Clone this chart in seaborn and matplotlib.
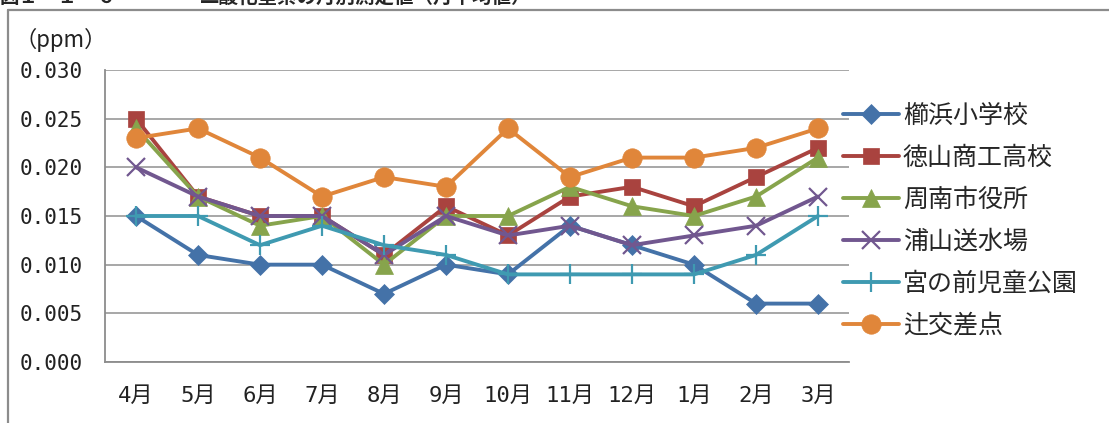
import matplotlib
matplotlib.use("Agg")
import matplotlib.pyplot as plt
from matplotlib.lines import Line2D
import numpy as np
import pandas as pd
import seaborn as sns

# monthly values (ppm)
months = ["4月", "5月", "6月", "7月", "8月", "9月", "10月", "11月", "12月", "1月", "2月", "3月"]
kushihama = [0.015, 0.011, 0.010, 0.010, 0.007, 0.010, 0.009, 0.014, 0.012, 0.010, 0.006, 0.006]
tokuyama_shoko = [0.025, 0.017, 0.015, 0.015, 0.011, 0.016, 0.013, 0.017, 0.018, 0.016, 0.019, 0.022]
shunan_shiyakusho = [0.024, 0.017, 0.014, 0.015, 0.010, 0.015, 0.015, 0.018, 0.016, 0.015, 0.017, 0.021]
urayama = [0.020, 0.017, 0.015, 0.015, 0.011, 0.015, 0.013, 0.014, 0.012, 0.013, 0.014, 0.017]
miyanomae = [0.015, 0.015, 0.012, 0.014, 0.012, 0.011, 0.009, 0.009, 0.009, 0.009, 0.011, 0.015]
tsuji = [0.023, 0.024, 0.021, 0.017, 0.019, 0.018, 0.024, 0.019, 0.021, 0.021, 0.022, 0.024]
y_ticks = [0.000, 0.005, 0.010, 0.015, 0.020, 0.025, 0.030]

series = {
    "櫛浜小学校": kushihama,
    "徳山商工高校": tokuyama_shoko,
    "周南市役所": shunan_shiyakusho,
    "浦山送水場": urayama,
    "宮の前児童公園": miyanomae,
    "辻交差点": tsuji,
}

colors = {
    "櫛浜小学校": "#4472a8",
    "徳山商工高校": "#a9433f",
    "周南市役所": "#87a44c",
    "浦山送水場": "#71578f",
    "宮の前児童公園": "#3f9ab1",
    "辻交差点": "#e0863a",
}
markers = {
    "櫛浜小学校": "D",
    "徳山商工高校": "s",
    "周南市役所": "^",
    "浦山送水場": "x",
    "宮の前児童公園": "+",
    "辻交差点": "o",
}
msizes = {
    "櫛浜小学校": 10,
    "徳山商工高校": 12,
    "周南市役所": 13,
    "浦山送水場": 13,
    "宮の前児童公園": 14,
    "辻交差点": 14,
}

sns.set_theme(style="white")
plt.rcParams["font.family"] = ["Noto Sans CJK JP", "DejaVu Sans"]
tick_family = ["DejaVu Sans Mono", "Noto Sans CJK JP"]

W, H = 1109, 423
fig = plt.figure(figsize=(W / 100, H / 100), dpi=100)
ax = fig.add_axes([105 / W, 1 - 362 / H, (849 - 105) / W, (362 - 70) / H])

x = np.arange(len(months))
for name, vals in series.items():
    sns.lineplot(
        x=x,
        y=vals,
        color=colors[name],
        marker=markers[name],
        markersize=msizes[name],
        markeredgewidth=1.6 if markers[name] in ("x", "+") else 0.5,
        markeredgecolor=colors[name],
        linewidth=2.8,
        label=name,
        ax=ax,
    )

ax.set_xlim(-0.5, 11.5)
ax.set_ylim(0, 0.030)
ax.set_yticks(y_ticks)
ax.set_yticklabels(["%.3f" % v for v in y_ticks], family=tick_family, fontsize=15, color="#222222")
ax.set_xticks(x)
ax.set_xticklabels(months, family=tick_family, fontsize=16, color="#222222")
ax.set_xticks(np.arange(-0.5, 12, 1), minor=True)
ax.tick_params(axis="x", which="major", length=0, pad=17)
ax.tick_params(axis="x", which="minor", direction="in", length=6, width=1.2, color="#8c8c8c")
ax.tick_params(axis="y", length=0, pad=16)

ax.grid(axis="y", color="#a0a0a0", linewidth=1.3)
ax.set_axisbelow(True)
for s in ("top", "right"):
    ax.spines[s].set_visible(False)
for s in ("left", "bottom"):
    ax.spines[s].set_color("#8c8c8c")
    ax.spines[s].set_linewidth(1.3)

ax.legend(
    loc="upper left",
    bbox_to_anchor=(843 / W, 1 - 103 / H),
    bbox_transform=fig.transFigure,
    frameon=False,
    fontsize=18,
    handlelength=2.25,
    handletextpad=0.15,
    labelspacing=0.64,
    borderpad=0,
    borderaxespad=0,
)

fig.text(14 / W, 1 - 40 / H, "（ppm）", fontsize=16, va="center", ha="left", color="#222222")

# outer frame and clipped caption
fig.add_artist(Line2D([8 / W, 8 / W], [0, 1 - 10 / H], color="#8c8c8c", linewidth=1.6))
fig.add_artist(Line2D([8 / W, 1], [1 - 10 / H, 1 - 10 / H], color="#8c8c8c", linewidth=1.6))
fig.text(0, 1 - 7 / H, "図１－１－６", fontsize=14, fontweight="bold", va="bottom", ha="left")
fig.text(200 / W, 1 - 7 / H, "二酸化窒素の月別測定値（月平均値）", fontsize=14, fontweight="bold",
         va="bottom", ha="left")

fig.savefig("out.png", dpi=100)
